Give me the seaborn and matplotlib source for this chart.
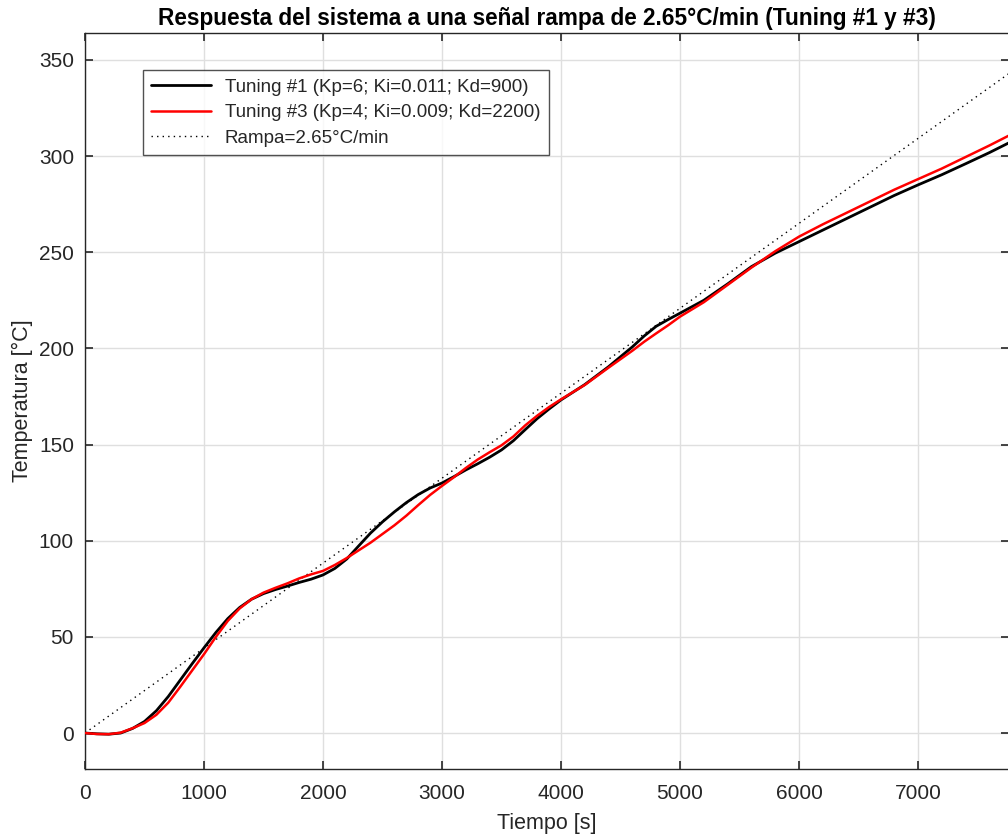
import numpy as np
import pandas as pd
import matplotlib
matplotlib.use("Agg")
import matplotlib.pyplot as plt
import seaborn as sns

# Time base of the logged temperatures [s]
tiempo = [0, 100, 200, 300, 400, 500, 600, 700, 800, 900,
          1000, 1100, 1200, 1300, 1400, 1500, 1600, 1700, 1800, 1900,
          2000, 2100, 2200, 2300, 2400, 2500, 2600, 2700, 2800, 2900,
          3000, 3100, 3200, 3300, 3400, 3500, 3600, 3700, 3800, 3900,
          4000, 4200, 4400, 4600, 4700, 4800, 4900, 5000, 5200, 5400,
          5600, 5800, 6000, 6200, 6400, 6600, 6800, 7000, 7200, 7400,
          7600, 7800]

# Tuning #1 (Kp=6; Ki=0.011; Kd=900) [°C]
temp_tuning1 = [0.0, -0.4, -0.6, 0.0, 2.4, 6.0, 11.6, 19.0, 27.5, 36.0,
                44.3, 52.3, 59.5, 65.3, 69.6, 72.5, 74.6, 76.4, 78.3, 80.0,
                82.2, 85.6, 90.5, 97.3, 104.0, 109.8, 115.0, 119.8, 124.0, 127.4,
                130.0, 133.3, 136.8, 140.0, 143.4, 147.2, 152.0, 157.8, 163.5, 168.5,
                173.2, 181.2, 190.5, 200.8, 206.5, 211.5, 215.0, 218.3, 225.0, 233.5,
                242.5, 249.5, 255.5, 261.5, 267.5, 273.5, 279.5, 285.0, 290.3, 296.0,
                301.8, 308.0]

# Tuning #3 (Kp=4; Ki=0.009; Kd=2200) [°C]
temp_tuning3 = [0.0, -0.5, -0.6, 0.2, 2.5, 5.2, 9.5, 15.8, 24.0, 32.5,
                41.0, 50.0, 58.3, 64.8, 69.6, 73.0, 75.5, 77.8, 80.4, 82.5,
                84.3, 87.4, 91.0, 95.0, 99.0, 103.5, 108.0, 113.0, 118.5, 123.8,
                128.5, 133.0, 137.8, 142.2, 146.0, 149.6, 154.2, 160.0, 165.0, 169.5,
                173.5, 181.0, 190.0, 198.8, 203.5, 207.8, 212.0, 216.5, 224.0, 233.0,
                242.0, 250.5, 258.1, 264.5, 270.5, 276.5, 282.5, 288.0, 293.5, 299.5,
                305.5, 311.8]

# Reference ramp: 2.65 °C/min starting at 0 °C
rampa_rate = 2.65
rampa_t = [0, 7800]

etiquetas = ["Tuning #1 (Kp=6; Ki=0.011; Kd=900)",
             "Tuning #3 (Kp=4; Ki=0.009; Kd=2200)",
             "Rampa=2.65°C/min"]

sns.set_theme(style="white")
plt.rcParams["font.family"] = ["Liberation Sans", "DejaVu Sans"]

gris = "#262626"
fig = plt.figure(figsize=(10.08, 8.36), dpi=100)
ax = fig.add_axes([85 / 1008, 67 / 836, 924 / 1008, 736 / 836])

df1 = pd.DataFrame({"t": tiempo, "T": temp_tuning1})
df3 = pd.DataFrame({"t": tiempo, "T": temp_tuning3})
dfr = pd.DataFrame({"t": rampa_t,
                    "T": [rampa_rate * t / 60.0 for t in rampa_t]})

sns.lineplot(data=df1, x="t", y="T", ax=ax, color="black", lw=2.0,
             label=etiquetas[0], zorder=3)
sns.lineplot(data=df3, x="t", y="T", ax=ax, color="#ff0000", lw=1.8,
             label=etiquetas[1], zorder=4)
sns.lineplot(data=dfr, x="t", y="T", ax=ax, color="black", lw=1.0,
             linestyle=(0, (1, 3)), label=etiquetas[2], zorder=2)

ax.set_xlim(0, 7765)
ax.set_ylim(-18.7, 364)
ax.set_xticks(np.arange(0, 8000, 1000))
ax.set_yticks(np.arange(0, 351, 50))

ax.grid(True, color="#dfdfdf", lw=1.0)
ax.set_axisbelow(True)
for s in ax.spines.values():
    s.set_color(gris)
    s.set_linewidth(1.0)

ax.tick_params(axis="both", which="both", direction="in", length=6, width=1.2,
               color=gris, labelcolor=gris, labelsize=15,
               top=True, right=True, bottom=True, left=True)
ax.tick_params(axis="x", pad=11)
ax.tick_params(axis="y", pad=8)

ax.set_xlabel("Tiempo [s]", fontsize=15.5, color=gris, labelpad=7)
ax.set_ylabel("Temperatura [°C]", fontsize=15.5, color=gris, labelpad=4)
ax.set_title("Respuesta del sistema a una señal rampa de 2.65°C/min (Tuning #1 y #3)",
             fontsize=16.3, fontweight="bold", color="black", pad=6)

leg = ax.legend(loc="upper left", bbox_to_anchor=(58 / 924, 699 / 736),
                borderaxespad=0, frameon=True, fancybox=False,
                edgecolor=gris, fontsize=13.5, handlelength=3.2,
                labelspacing=0.45, borderpad=0.45, handletextpad=0.7)
leg.get_frame().set_linewidth(1.0)
for t in leg.get_texts():
    t.set_color(gris)

fig.savefig("out.png", dpi=100, facecolor="white")
